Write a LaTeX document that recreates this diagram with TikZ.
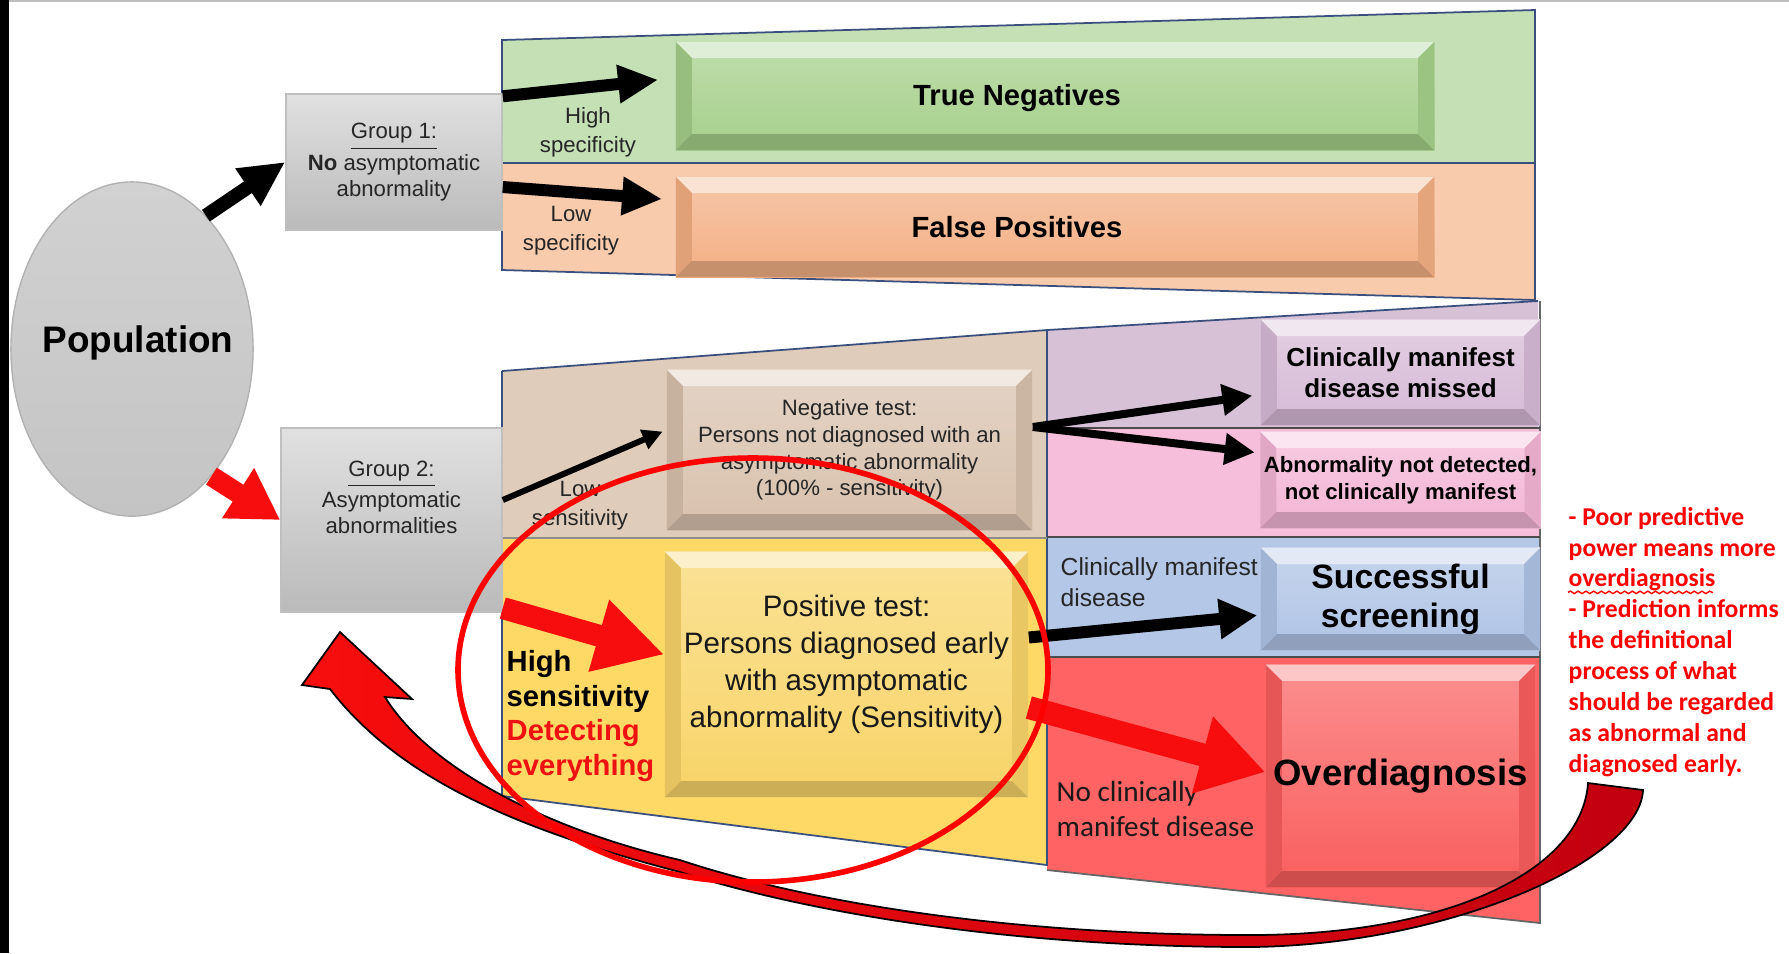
\documentclass[tikz,border=0pt]{standalone}
\usepackage{fontspec}
\setmainfont{Liberation Sans}
\newfontfamily\calfont{Carlito}
\usetikzlibrary{arrows.meta,shapes.geometric,decorations.pathmorphing}

\definecolor{popgrey}{HTML}{C4C4C4}
\definecolor{edgeblue}{HTML}{3A4F7E}
\definecolor{trgreen}{HTML}{C5E0B4}
\definecolor{bxgreen}{HTML}{A5CF8A}
\definecolor{trorange}{HTML}{F8CBAD}
\definecolor{bxorange}{HTML}{F3AF84}
\definecolor{trtan}{HTML}{E0CCBA}
\definecolor{bxtan}{HTML}{D8C1AD}
\definecolor{tryellow}{HTML}{FFD966}
\definecolor{bxyellow}{HTML}{F8D468}
\definecolor{trpurple}{HTML}{D7C1D7}
\definecolor{bxpurple}{HTML}{D6BAD6}
\definecolor{trpink}{HTML}{F6BEDB}
\definecolor{bxpink}{HTML}{F3B5D5}
\definecolor{trblue}{HTML}{B4C7E7}
\definecolor{bxblue}{HTML}{AFC3E5}
\definecolor{trred}{HTML}{FF6363}
\definecolor{bxred}{HTML}{FA5E5E}
\definecolor{arrred}{HTML}{F70D0D}
\definecolor{darkred}{HTML}{C20010}
\definecolor{txtred}{HTML}{EE1111}

\newcommand{\bw}{0.16cm}
\newcommand{\ppb}{path picture bounding box}

\tikzset{
  bevel/.style={rectangle, inner sep=1pt, align=center, top color=#1!70!white, bottom color=#1,
    path picture={
      \fill[#1!35!white] (\ppb.north west) -- (\ppb.north east) -- ([shift={(-\bw,-\bw)}]\ppb.north east) -- ([shift={(\bw,-\bw)}]\ppb.north west) -- cycle;
      \fill[#1!92!black] (\ppb.north west) -- ([shift={(\bw,-\bw)}]\ppb.north west) -- ([shift={(\bw,\bw)}]\ppb.south west) -- (\ppb.south west) -- cycle;
      \fill[#1!82!black] (\ppb.south west) -- ([shift={(\bw,\bw)}]\ppb.south west) -- ([shift={(-\bw,\bw)}]\ppb.south east) -- (\ppb.south east) -- cycle;
      \fill[#1!94!black] (\ppb.south east) -- ([shift={(-\bw,\bw)}]\ppb.south east) -- ([shift={(-\bw,-\bw)}]\ppb.north east) -- (\ppb.north east) -- cycle;
    }},
  grp/.style={rectangle, draw=black!25, top color=black!12, bottom color=black!27, inner sep=1pt},
  grptxt/.style={align=center, inner sep=0pt, text=black!85, font=\fontsize{6.3}{7.4}\selectfont},
  lbl/.style={align=center, inner sep=0pt, text=black!85, font=\fontsize{6.3}{8.2}\selectfont},
  bigtxt/.style={inner sep=0pt, font=\bfseries\fontsize{8.3}{10}\selectfont},
  edge/.style={draw=edgeblue, line width=0.5pt},
  blkarr/.style n args={3}{draw=black, line width=#1, -{Triangle[length=#2,width=#3]}},
  redarr/.style n args={3}{draw=arrred, line width=#1, -{Triangle[length=#2,width=#3]}},
}

\begin{document}
\begin{tikzpicture}[x=0.01cm, y=-0.01cm]
\useasboundingbox (0,0) rectangle (1789,953);
\fill[white] (0,0) rectangle (1789,953);
\draw[black!25, line width=0.8pt] (9,1) -- (1789,1);

% upper band
\fill[trgreen] (502,40) -- (1535,10) -- (1535,163) -- (502,163) -- cycle;
\fill[trorange] (502,163) -- (1535,163) -- (1535,300) -- (502,270) -- cycle;
\draw[edge] (502,40) -- (1535,10) -- (1535,300) -- (502,270) -- cycle;
\draw[edge] (502,163) -- (1535,163);

% lower band
\fill[trtan] (502,371) -- (1047,330) -- (1047,538) -- (502,538) -- cycle;
\fill[tryellow] (502,538) -- (1047,538) -- (1047,865) -- (502,796) -- cycle;
\fill[trpurple] (1047,330) -- (1538,301) -- (1538,428) -- (1047,428) -- cycle;
\fill[trpink] (1047,428) -- (1540,428) -- (1540,537) -- (1047,537) -- cycle;
\fill[trblue] (1047,537) -- (1540,537) -- (1540,657) -- (1047,657) -- cycle;
\fill[trred] (1047,657) -- (1540,657) -- (1540,923) -- (1047,870) -- cycle;
\draw[edge] (502,371) -- (1047,330) -- (1538,301);
\draw[edge] (502,371) -- (502,796) -- (1047,865) -- (1047,330);
\draw[edge, draw=black!60] (1047,870) -- (1540,923) -- (1540,301);
\draw[edge, draw=black!45] (502,538) -- (1047,538);
\draw[edge, draw=black!70] (1047,428) -- (1540,428);
\draw[edge, draw=black!70] (1047,537) -- (1540,537);
\draw[edge, draw=black!70] (1047,657) -- (1540,657);

% population and groups
\node[ellipse, draw=black!30, top color=black!18, bottom color=popgrey, minimum width=2.42cm, minimum height=3.34cm, inner sep=0pt,
  label={[inner sep=0pt, xshift=0.06cm, yshift=0.06cm, font=\bfseries\fontsize{10.5}{12}\selectfont]center:Population}] (pop) at (132,349) {};
\fill[black] (0,0) rectangle (9,953);
\node[grp, grptxt, minimum width=2.16cm, minimum height=1.36cm] (g1) at (394,162) {\underline{Group 1:}\\\textbf{No} asymptomatic\\abnormality};
\node[grp, minimum width=2.21cm, minimum height=1.84cm, label={[grptxt, yshift=0.23cm]center:{\underline{Group 2:}\\Asymptomatic\\abnormalities}}] (g2) at (391.5,520) {};

% outcome boxes
\node[bevel=bxgreen, minimum width=7.58cm, minimum height=1.08cm, label={[bigtxt, xshift=-0.38cm, yshift=-0.02cm]center:True Negatives}] (tn) at (1055,96) {};
\node[bevel=bxorange, minimum width=7.58cm, minimum height=1.00cm, label={[bigtxt, xshift=-0.38cm]center:False Positives}] (fp) at (1055,227) {};
\node[bevel=bxtan, minimum width=3.65cm, minimum height=1.60cm, text=black!85, font=\fontsize{6.3}{7.6}\selectfont] (neg) at (849.5,450) {Negative test:\\Persons not diagnosed with an\\asymptomatic abnormality\\(100\% - sensitivity)};
\node[bevel=bxyellow, minimum width=3.63cm, minimum height=2.45cm,
  label={[inner sep=0pt, align=center, yshift=0.1cm, text=black!90, font=\fontsize{8.4}{10.5}\selectfont]center:{Positive test:\\Persons diagnosed early\\with asymptomatic\\abnormality (Sensitivity)}}] (pos) at (846.5,674.5) {};
\node[bevel=bxpurple, minimum width=2.79cm, minimum height=1.05cm, font=\bfseries\fontsize{7.4}{8.7}\selectfont] (cmd) at (1400.5,372.5) {Clinically manifest\\disease missed};
\node[bevel=bxpink, minimum width=2.79cm, minimum height=0.96cm, font=\bfseries\fontsize{6.3}{7.7}\selectfont] (and) at (1400.5,480) {Abnormality not detected,\\not clinically manifest};
\node[bevel=bxblue, minimum width=2.79cm, minimum height=1.02cm, font=\bfseries\fontsize{9.6}{11}\selectfont] (ss) at (1400.5,599) {Successful\\screening};
\node[bevel=bxred, minimum width=2.69cm, minimum height=2.22cm, font=\bfseries\fontsize{10.4}{12}\selectfont] (od) at (1400.5,776) {Overdiagnosis};

% labels
\node[lbl] (hspec) at (588,132) {High\\specificity};
\node[lbl] (lspec) at (571,231) {Low\\specificity};
\node[lbl] (lsens) at (580,506) {Low\\sensitivity};
\node[inner sep=0pt, align=left, anchor=west, font=\bfseries\fontsize{8.3}{9.9}\selectfont] (hsens) at (506,716) {High\\sensitivity\\\textcolor{txtred}{Detecting}\\\textcolor{txtred}{everything}};
\node[inner sep=0pt, align=left, anchor=west, text=black!85, font=\fontsize{7}{8.8}\selectfont] (cmdis) at (1060,582) {Clinically manifest\\disease};
\node[inner sep=0pt, align=left, anchor=west, text=black!90, font=\calfont\fontsize{8.3}{9.9}\selectfont] (nocmd) at (1056,809) {No clinically\\manifest disease};

% arrows
\draw[blkarr={0.14cm}{0.45cm}{0.42cm}] (pop.61) -- (g1.west);
\draw[redarr={0.2cm}{0.5cm}{0.56cm}] (pop.-58) -- (g2.west);
\draw[blkarr={0.12cm}{0.4cm}{0.36cm}, shorten >=0.17cm] ([yshift=-0.03cm]g1.north east) -- ([yshift=0.18cm]tn.west);
\draw[blkarr={0.12cm}{0.4cm}{0.36cm}, shorten >=0.13cm] ([yshift=-0.25cm]g1.east) -- ([yshift=0.27cm]fp.west);
\draw[blkarr={0.06cm}{0.2cm}{0.2cm}, shorten >=0.04cm] ([yshift=0.2cm]g2.east) -- ([yshift=0.2cm]neg.west);
\draw[redarr={0.22cm}{0.68cm}{0.7cm}] ([yshift=-0.88cm]g2.east) -- ([yshift=0.2cm]pos.west);
\draw[blkarr={0.08cm}{0.3cm}{0.3cm}, shorten >=0.08cm] ([yshift=0.23cm]neg.east) -- ([yshift=-0.22cm]cmd.west);
\draw[blkarr={0.08cm}{0.3cm}{0.3cm}, shorten >=0.05cm] ([yshift=0.23cm]neg.east) -- ([yshift=0.27cm]and.west);
\draw[blkarr={0.12cm}{0.38cm}{0.38cm}, shorten >=0.03cm] ([yshift=0.37cm]pos.east) -- ([yshift=-0.16cm]ss.west);
\draw[redarr={0.23cm}{0.65cm}{0.75cm}] ([yshift=-0.33cm]pos.east) -- ([yshift=0.04cm]od.west);

% feedback arrow
\filldraw[draw=black, line width=0.5pt, left color=arrred, right color=darkred]
  (1643,790) .. controls (1640,860) and (1450,945) .. (1250,947)
  .. controls (1000,947) and (800,910) .. (680,872)
  .. controls (520,830) and (400,780) .. (330,689)
  -- (302,685) -- (340,632) -- (412,699) -- (385,697)
  .. controls (430,770) and (550,830) .. (680,860)
  .. controls (800,900) and (1000,935) .. (1250,935)
  .. controls (1450,935) and (1582,870) .. (1588,783)
  -- cycle;

% highlight
\draw[red, line width=1.6pt] (753,670) ellipse [x radius=295, y radius=212];

\node[inner sep=0pt, align=left, anchor=west, text=red, font=\calfont\bfseries\fontsize{7.3}{8.8}\selectfont] (note) at (1568,642) {- Poor predictive\\power means more\\overdiagnosis\\- Prediction informs\\the definitional\\process of what\\should be regarded\\as abnormal and\\diagnosed early.};
\draw[red, line width=0.4pt, decorate, decoration={snake, amplitude=0.35pt, segment length=2.2pt}] ([yshift=-0.86cm]note.north west) -- ++(145,0);
\end{tikzpicture}
\end{document}
